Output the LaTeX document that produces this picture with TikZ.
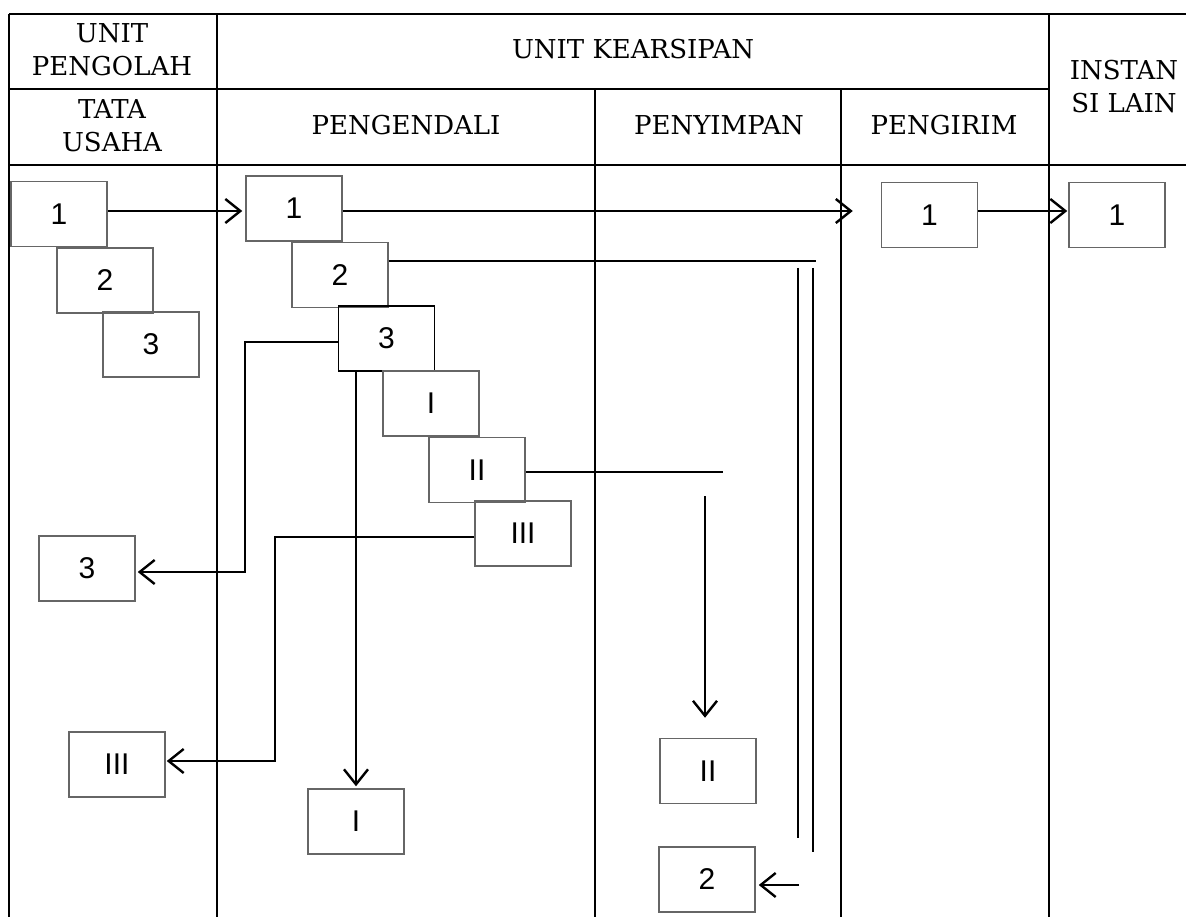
\documentclass[tikz,border=0pt]{standalone}
\usepackage{fontspec}
\setmainfont{DejaVu Serif}
\newfontfamily\boxfont{Liberation Sans}
\usetikzlibrary{arrows.meta}
\begin{document}
\begin{tikzpicture}[x=1pt,y=-1pt,
  gridline/.style={line width=2.6pt},
  hdr/.style={font=\fontsize{26}{33}\selectfont, align=center, inner sep=0pt},
  box/.style={draw=black!60, line width=1.5pt, minimum width=96pt, minimum height=65pt, inner sep=0pt, font=\boxfont\fontsize{30}{34}\selectfont},
  darkbox/.style={box, draw=black},
  arr/.style={line width=2.4pt, -{Straight Barb[length=15pt,width=24pt,line width=2.4pt]}},
  conn/.style={line width=2.4pt},
  thinconn/.style={line width=2pt}]
\useasboundingbox (0,0) rectangle (1186,917);
% table grid
\draw[gridline] (9,14) -- (1186,14);
\draw[gridline] (9,14) -- (9,917);
\draw[gridline] (9,89) -- (1049,89);
\draw[gridline] (9,165) -- (1186,165);
\draw[gridline] (217,14) -- (217,917);
\draw[gridline] (595,89) -- (595,917);
\draw[gridline] (841,89) -- (841,917);
\draw[gridline] (1049,14) -- (1049,917);
% headers
\node[hdr] (hup) at (112,50) {UNIT\\PENGOLAH};
\node[hdr] (huk) at (633,49) {UNIT KEARSIPAN};
\node[hdr] (htu) at (112,126) {TATA\\USAHA};
\node[hdr] (hpe) at (406,125) {PENGENDALI};
\node[hdr] (hpy) at (719,125) {PENYIMPAN};
\node[hdr] (hpg) at (944,125) {PENGIRIM};
\node[hdr] (hil) at (1124,87) {INSTAN\\SI LAIN};
% boxes
\node[box] (tu1) at (59,214) {1};
\node[box] (tu2) at (105,280.5) {2};
\node[box] (tu3) at (151,344.5) {3};
\node[box] (p1) at (294,208.5) {1};
\node[box] (p2) at (340,275) {2};
\node[darkbox] (p3) at (386.5,338.5) {3};
\node[box] (pI) at (431,403.5) {I};
\node[box] (pII) at (477,470) {II};
\node[box] (pIII) at (523,533.5) {III};
\node[box] (tu3b) at (87,568.5) {3};
\node[box] (tuIII) at (117,764.5) {III};
\node[box] (pIb) at (356,821.5) {I};
\node[box] (sII) at (708,771) {II};
\node[box] (s2) at (707,879.5) {2};
\node[box] (g1) at (929.5,215) {1};
\node[box] (il1) at (1117,215) {1};
% connectors
\coordinate (r1) at (0,211);
\draw[arr, shorten >=3pt] (r1 -| tu1.east) -- (r1 -| p1.west);
\draw[arr, shorten >=28pt] (r1 -| p1.east) -- (r1 -| g1.west);
\draw[arr, shorten >=1pt] (r1 -| g1.east) -- (r1 -| il1.west);
% 2 -> penyimpan 2
\coordinate (c2a) at (816,261);
\draw[thinconn] (c2a -| p2.east) -- (c2a);
\coordinate (v1t) at (798,268);
\coordinate (v1b) at (798,838);
\coordinate (v2t) at (813,268);
\coordinate (v2b) at (813,852);
\draw[thinconn] (v1t) -- (v1b);
\draw[thinconn] (v2t) -- (v2b);
\coordinate (a2s) at (799,885);
\draw[arr, shorten >=3pt] (a2s) -- (a2s -| s2.east);
% 3 -> tata usaha 3
\coordinate (k3) at (245,342);
\coordinate (k3b) at (245,572);
\draw[arr, shorten >=2pt] (k3 -| p3.west) -- (k3) -- (k3b) -- (k3b -| tu3b.east);
% 3 -> I
\draw[arr, shorten >=2pt] (p3.south -| pIb.north) -- (pIb.north);
% III -> tata usaha III
\coordinate (k4) at (275,537);
\coordinate (k4b) at (275,761);
\draw[arr, shorten >=1pt] (k4 -| pIII.west) -- (k4) -- (k4b) -- (k4b -| tuIII.east);
% II -> penyimpan II
\coordinate (k5) at (723,472);
\draw[conn] (k5 -| pII.east) -- (k5);
\coordinate (k6) at (705,496);
\draw[arr, shorten >=20pt] (k6) -- (k6 |- sII.north);
\end{tikzpicture}
\end{document}
